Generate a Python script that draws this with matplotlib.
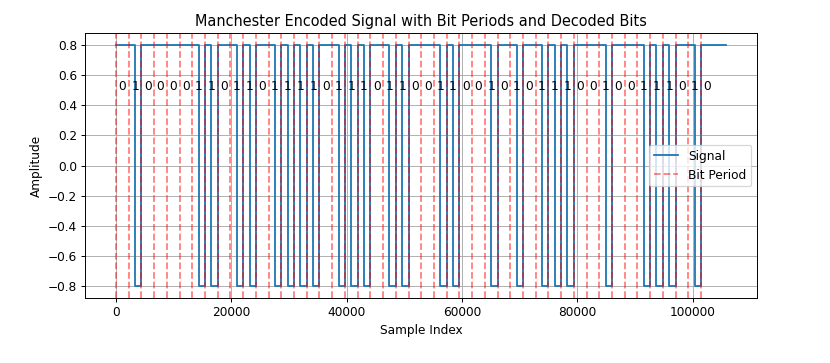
import numpy as np
import matplotlib
matplotlib.use('Agg')
import matplotlib.pyplot as plt

# --- Data ---
SAMPLES_PER_BIT = 2205
AMPLITUDE = 0.8

# decoded bits printed above the signal (one per bit period)
decoded_bits = [0, 1, 0, 0, 0, 0, 1, 1, 0, 1,
                1, 0, 1, 1, 1, 1, 0, 1, 1, 1,
                0, 1, 1, 0, 0, 1, 1, 0, 0, 1,
                0, 1, 0, 1, 1, 1, 0, 0, 1, 0,
                0, 1, 1, 1, 0, 1, 0]

# signal level for each half bit period (+1 high, -1 low)
signal_halves = [1, 1, 1, -1, 1, 1, 1, 1, 1, 1, 1, 1, 1, -1, 1, -1,
                 1, 1, 1, -1, 1, -1, 1, 1, 1, -1, 1, -1, 1, -1, 1, -1,
                 1, 1, 1, -1, 1, -1, 1, -1, 1, 1, 1, -1, 1, -1, 1, 1,
                 1, 1, 1, -1, 1, -1, 1, 1, 1, 1, 1, -1, 1, 1, 1, -1,
                 1, 1, 1, -1, 1, -1, 1, -1, 1, 1, 1, 1, 1, -1, 1, 1,
                 1, 1, 1, -1, 1, -1, 1, -1, 1, 1, 1, -1, 1, 1, 1, 1]

DPI = 87  # reference looks like a scaled-down render


def main():
    levels = AMPLITUDE * np.array(signal_halves + signal_halves[-1:], dtype=float)
    x = np.arange(len(levels)) * SAMPLES_PER_BIT / 2

    fig = plt.figure(figsize=(830 / DPI, 363 / DPI), dpi=DPI)
    ax = fig.add_axes([0.103, 0.179, 0.809, 0.730])

    ax.plot(x, levels, drawstyle='steps-post', label='Signal')

    # bit period markers and decoded bits
    for i, bit in enumerate(decoded_bits):
        start = i * SAMPLES_PER_BIT
        ax.axvline(start, color='r', linestyle='--', alpha=0.5,
                   label='Bit Period' if i == 0 else None)
        ax.text(start + SAMPLES_PER_BIT / 2, 0.5, str(bit), ha='center')

    ax.set_title('Manchester Encoded Signal with Bit Periods and Decoded Bits')
    ax.set_xlabel('Sample Index')
    ax.set_ylabel('Amplitude')
    ax.legend(loc='center right')
    ax.grid(True)

    fig.savefig('out.png', dpi=DPI)
    plt.close(fig)


if __name__ == "__main__":
    main()
